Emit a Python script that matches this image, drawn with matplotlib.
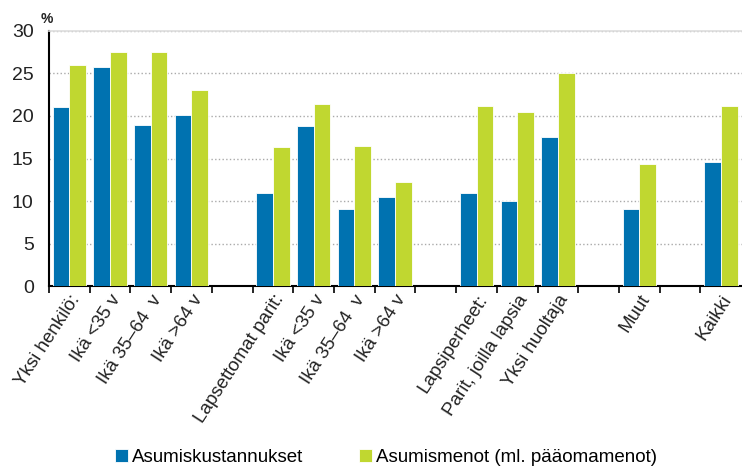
import numpy as np
import matplotlib
matplotlib.use("Agg")
import matplotlib.pyplot as plt

plt.rcParams['font.family'] = ['Liberation Sans', 'DejaVu Sans']

# ==========================================================
# Data
# ==========================================================

categories = ["Yksi henkilö:", "Ikä <35 v", "Ikä 35–64  v", "Ikä >64 v", "",
              "Lapsettomat parit:", "Ikä <35 v", "Ikä 35–64  v", "Ikä >64 v", "",
              "Lapsiperheet:", "Parit, joilla lapsia", "Yksi huoltaja", "",
              "Muut", "", "Kaikki"]

kustannukset = [21.0, 25.8, 19.0, 20.1, np.nan,
                10.9, 18.8, 9.1, 10.5, np.nan,
                10.9, 10.0, 17.5, np.nan,
                9.1, np.nan, 14.6]

menot = [26.0, 27.5, 27.5, 23.1, np.nan,
         16.4, 21.4, 16.5, 12.2, np.nan,
         21.2, 20.5, 25.0, np.nan,
         14.3, np.nan, 21.2]

series_names = ["Asumiskustannukset", "Asumismenot (ml. pääomamenot)"]
yticks = [0, 5, 10, 15, 20, 25, 30]

blue = "#0072b0"
green = "#c0d730"

# ==========================================================
# Figure
# ==========================================================

fig = plt.figure(figsize=(7.42, 4.69), dpi=100)
ax = fig.add_axes([0.066, 0.39, 0.934, 0.544])

x = np.arange(len(categories))
w = 0.41

ax.bar(x - w/2, kustannukset, width=w, color=blue, edgecolor='white',
       linewidth=0.6, label=series_names[0], zorder=3)
ax.bar(x + w/2, menot, width=w, color=green, edgecolor='white',
       linewidth=0.6, label=series_names[1], zorder=3)

ax.set_xlim(-0.5, len(categories) - 0.48)
ax.set_ylim(0, 30)
ax.set_yticks(yticks)
ax.tick_params(axis='y', length=0, labelsize=14, pad=11, colors='#222222')

# category labels at centres, tick marks at boundaries
ax.set_xticks(x)
ax.set_xticklabels(categories, rotation=57, ha='right',
                   rotation_mode='anchor', fontsize=13.5, color='#222222')
ax.tick_params(axis='x', which='major', length=0, pad=4)
ax.set_xticks(np.arange(len(categories)) - 0.5, minor=True)
ax.tick_params(axis='x', which='minor', length=5, width=1.2, color='black')

ax.yaxis.grid(True, ls=':', color='#aaaaaa', lw=1, zorder=0)
ax.set_axisbelow(True)

ax.spines['left'].set_linewidth(1.5)
ax.spines['bottom'].set_linewidth(1.5)
ax.spines['right'].set_visible(False)
ax.spines['top'].set_color('#dddddd')
ax.spines['top'].set_linewidth(1.2)

fig.text(0.055, 0.952, "%", fontsize=10, fontweight='bold', color='#222222')

fig.legend(loc='center', bbox_to_anchor=(0.52, 0.024), ncol=2,
           frameon=False, fontsize=13.5, handlelength=0.7, handleheight=0.7,
           handletextpad=0.2, columnspacing=3.0)

fig.savefig("out.png", dpi=100)
